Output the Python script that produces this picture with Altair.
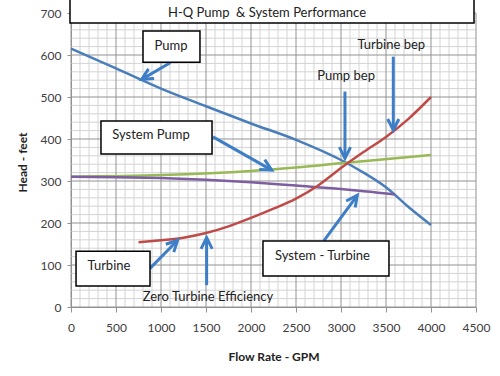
import math
import altair as alt
import pandas as pd

# ---- data ----
pump_q = [0, 500, 1000, 1500, 2000, 2500, 3000, 3250, 3500, 3750, 4000]
pump_h = [615, 568, 520, 478, 437, 398, 350, 320, 285, 238, 195]
sys_pump_q = [0, 1000, 2000, 3000, 4000]
sys_pump_h = [310, 314, 324, 342, 362]
sys_turb_q = [0, 500, 1000, 1500, 2000, 2500, 3000, 3600]
sys_turb_h = [310, 309, 307, 303, 297, 289, 281, 268]
turb_q = [750, 1000, 1250, 1500, 1750, 2000, 2250, 2500, 2750, 3000, 3250, 3500, 3750, 4000]
turb_h = [154, 159, 165, 176, 192, 212, 234, 258, 290, 331, 369, 405, 448, 500]

series_names = ["Pump", "System Pump", "System - Turbine", "Turbine"]
series_colors = ["#4A7EBB", "#98B954", "#7D5FA0", "#BE4B48"]

# tick labels
x_ticks = [0, 500, 1000, 1500, 2000, 2500, 3000, 3500, 4000, 4500]
y_ticks = [0, 100, 200, 300, 400, 500, 600, 700]

# annotation boxes (data coordinates)
box_q1 = [800, 333, 2133, 56]
box_q2 = [1433, 1567, 3533, 878]
box_h1 = [657, 443, 157, 133]
box_h2 = [583, 364, 74, 50]

# annotation texts
txt_labels = ["Pump", "System Pump", "System - Turbine", "Turbine", "Pump bep", "Turbine bep"]
txt_q = [1111, 889, 2794, 422, 3056, 3559]
txt_h = [621, 410, 122, 98, 550, 624]
zero_label = "Zero Turbine Efficiency"
zero_q = [797]
zero_h = [24]

# arrows: tail -> tip
arr_q0 = [1107, 1578, 3044, 3581, 2811, 878, 1507]
arr_h0 = [582, 405, 513, 596, 158, 92, 52]
arr_q1 = [785, 2230, 3044, 3581, 3181, 1185, 1507]
arr_h1 = [542, 326, 354, 421, 266, 159, 165]

title_text = "H-Q Pump\u00a0 & System Performance"

W, H = 405, 294
QMAX, HMAX = 4500, 700
FONT = "Lato"
ARROW = "#3D7EC6"
MAJOR = "#929292"
MINOR = "#d4d4d4"

rows = []
for name, qs, hs in [("Pump", pump_q, pump_h), ("System Pump", sys_pump_q, sys_pump_h),
                     ("System - Turbine", sys_turb_q, sys_turb_h), ("Turbine", turb_q, turb_h)]:
    for q, h in zip(qs, hs):
        rows.append({"series": name, "q": q, "h": h})
lines_df = pd.DataFrame(rows)

boxes_df = pd.DataFrame({"q": box_q1, "q2": box_q2, "h": box_h1, "h2": box_h2})
txt_df = pd.DataFrame({"label": txt_labels, "q": txt_q, "h": txt_h})
zero_df = pd.DataFrame({"label": [zero_label], "q": zero_q, "h": zero_h})


def angle(q0, h0, q1, h1):
    dx = (q1 - q0) * W / QMAX
    dy = -(h1 - h0) * H / HMAX
    return math.degrees(math.atan2(dx, -dy)) % 360


shaft_df = pd.DataFrame({"q": arr_q0, "h": arr_h0, "q2": arr_q1, "h2": arr_h1})
head_df = pd.DataFrame({
    "q": arr_q1, "h": arr_h1,
    "ang": [angle(a, b, c, d) for a, b, c, d in zip(arr_q0, arr_h0, arr_q1, arr_h1)],
})

x_minor = [v for v in range(0, QMAX + 1, 100) if v % 500 != 0]
y_minor = [v for v in range(0, HMAX + 1, 20) if v % 100 != 0]
xgrid_df = pd.DataFrame({"q": x_minor})
ygrid_df = pd.DataFrame({"h": y_minor})
xmajor_df = pd.DataFrame({"q": x_ticks})
ymajor_df = pd.DataFrame({"h": y_ticks})

x_axis = alt.Axis(
    values=x_ticks, format="d", grid=False, labelFlush=False,
    tickSize=5, tickColor=MAJOR, labelPadding=10,
    labelFont=FONT, labelFontSize=12, labelColor="#404040",
    domainColor=MAJOR,
    title="Flow Rate - GPM",
    titleFont=FONT, titleFontSize=12, titleFontWeight="bold", titleColor="#222222",
    titleY=49, titleBaseline="middle",
)
y_axis = alt.Axis(
    values=y_ticks, format="d", grid=False, labelFlush=False,
    tickSize=4, tickColor=MAJOR, labelPadding=6,
    labelFont=FONT, labelFontSize=12, labelColor="#404040",
    domainColor=MAJOR,
    title="Head - feet",
    titleFont=FONT, titleFontSize=12, titleFontWeight="bold", titleColor="#222222",
    titleX=-49, titleY=149, titleAngle=270, titleBaseline="middle", titleAlign="center",
)

xs = alt.Scale(domain=[0, QMAX], nice=False, zero=False)
ys = alt.Scale(domain=[0, HMAX], nice=False, zero=False)


def X(f):
    return alt.X(f, scale=xs, axis=x_axis)


def Y(f):
    return alt.Y(f, scale=ys, axis=y_axis)


gx_minor = alt.Chart(xgrid_df).mark_rule(color=MINOR, strokeWidth=1).encode(x=X("q:Q"))
gy_minor = alt.Chart(ygrid_df).mark_rule(color=MINOR, strokeWidth=1).encode(y=Y("h:Q"))
gx_major = alt.Chart(xmajor_df).mark_rule(color=MAJOR, strokeWidth=1).encode(x=X("q:Q"))
gy_major = alt.Chart(ymajor_df).mark_rule(color=MAJOR, strokeWidth=1).encode(y=Y("h:Q"))

lines = alt.Chart(lines_df).mark_line(strokeWidth=2.5, interpolate="monotone").encode(
    x=X("q:Q"),
    y=Y("h:Q"),
    color=alt.Color("series:N", scale=alt.Scale(domain=series_names, range=series_colors), legend=None),
    detail="series:N",
)

shafts = alt.Chart(shaft_df).mark_rule(color=ARROW, strokeWidth=3).encode(
    x=X("q:Q"), y=Y("h:Q"), x2="q2:Q", y2="h2:Q"
)
heads = alt.Chart(head_df).mark_point(
    shape="M -0.5 1 L 0 0 L 0.5 1", filled=False, color=ARROW, strokeWidth=3,
    size=500, opacity=1, strokeJoin="miter", strokeCap="butt",
).encode(
    x=X("q:Q"), y=Y("h:Q"), angle=alt.Angle("ang:Q", scale=None)
)

boxes = alt.Chart(boxes_df).mark_rect(fill="white", stroke="black", strokeWidth=1.5).encode(
    x=X("q:Q"), x2="q2:Q", y=Y("h:Q"), y2="h2:Q"
)
texts = alt.Chart(txt_df).mark_text(font=FONT, fontSize=13, color="#222222", baseline="middle").encode(
    x=X("q:Q"), y=Y("h:Q"), text="label:N"
)
zero_text = alt.Chart(zero_df).mark_text(font=FONT, fontSize=13, color="#222222", baseline="middle", align="left").encode(
    x=X("q:Q"), y=Y("h:Q"), text="label:N"
)

title_df = pd.DataFrame({"label": [title_text]})
title_box = alt.Chart(title_df).mark_rect(fill="white", stroke="black", strokeWidth=1.5).encode(
    x=alt.value(-1), x2=alt.value(403), y=alt.value(-16), y2=alt.value(10)
)
title_txt = alt.Chart(title_df).mark_text(font=FONT, fontSize=13, color="#222222", baseline="middle").encode(
    x=alt.value(196), y=alt.value(0), text="label:N"
)

chart = alt.layer(
    gx_minor, gy_minor, gx_major, gy_major, lines, shafts, heads, boxes, texts, zero_text, title_box, title_txt
).properties(
    width=W, height=H,
    autosize=alt.AutoSizeParams(type="none"),
    padding={"left": 71, "top": 13, "right": 24, "bottom": 69},
    background="white",
).configure_view(strokeOpacity=0)

chart.save("out.html", embed_options={"renderer": "svg", "actions": False})
